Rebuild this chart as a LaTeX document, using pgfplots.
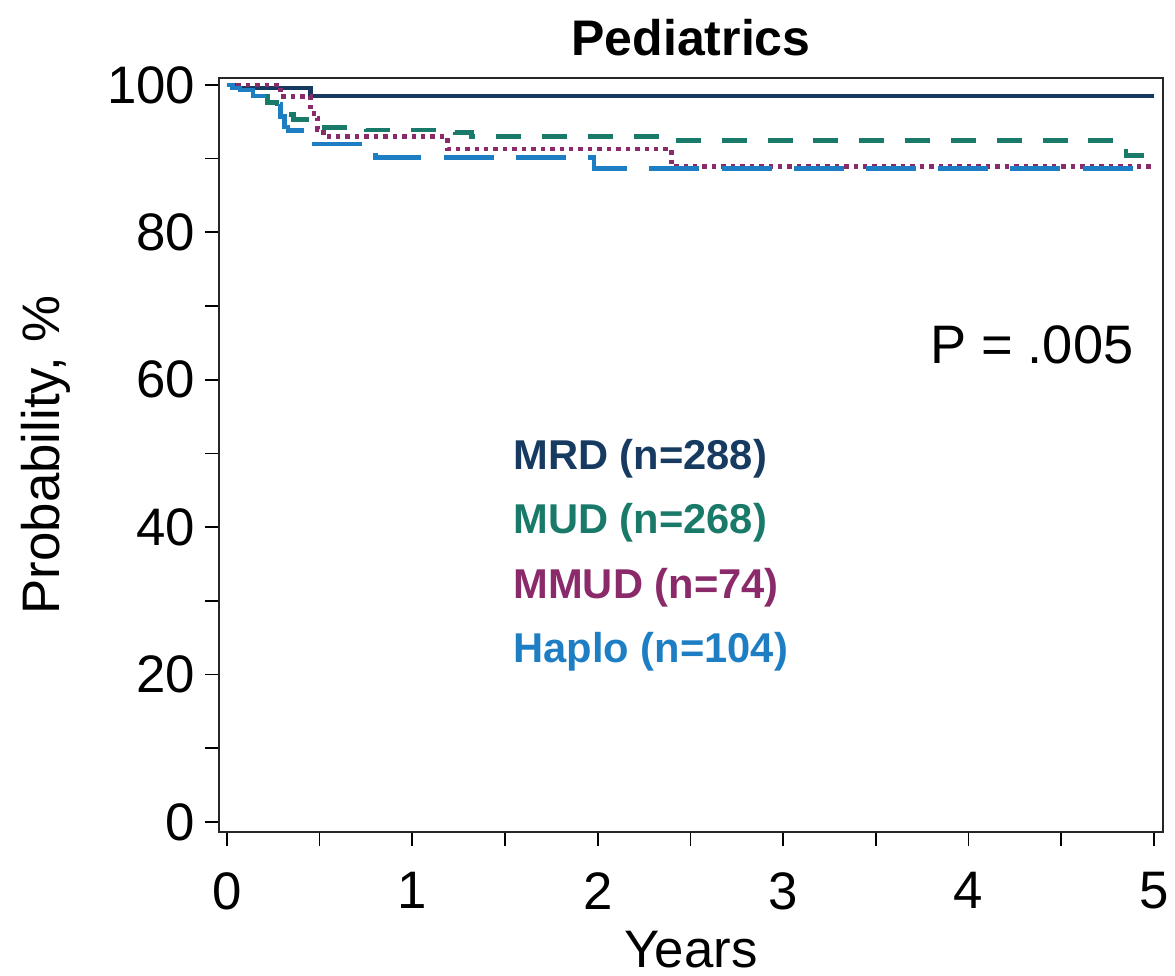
\documentclass[border=0pt]{standalone}
\usepackage{pgfplots}
\pgfplotsset{compat=1.18}
\usepackage{fontspec}
\setmainfont{Liberation Sans}

\definecolor{mrdc}{HTML}{163A60}
\definecolor{mudc}{HTML}{1A7A6A}
\definecolor{mmudc}{HTML}{8A2A6A}
\definecolor{haploc}{HTML}{1E7EC4}

\begin{document}
\begin{tikzpicture}
\begin{axis}[
    scale only axis,
    width=339.8pt, height=271.4pt,
    xmin=-0.043, xmax=5.05,
    ymin=-1.36, ymax=100.95,
    xtick={0,1,2,3,4,5},
    minor xtick={0.5,1.5,2.5,3.5,4.5},
    ytick={0,20,40,60,80,100},
    minor ytick={10,30,50,70,90},
    xtick pos=left, ytick pos=left,
    tick align=outside,
    major tick length=5pt, minor tick length=5pt,
    every tick/.style={black, line width=0.6pt},
    axis line style={black!85, line width=0.7pt},
    /pgf/number format/assume math mode=true,
    ticklabel style={font=\fontsize{19}{22}\selectfont},
    xticklabel style={yshift=-6pt},
    xlabel={Years},
    ylabel={Probability, \%},
    label style={font=\fontsize{19}{22}\selectfont},
    xlabel style={yshift=-1pt},
    ylabel style={yshift=6.5pt},
    title={Pediatrics},
    title style={font=\fontsize{18}{22}\selectfont\bfseries, yshift=-1.5pt},
]

% MRD
\addplot[const plot, mrdc, line width=1.7pt] coordinates {
    (0,100) (0.05,99.6) (0.45,98.5) (5,98.5)
};

% MUD
\addplot[const plot, mudc, line width=1.7pt, dash pattern=on 9pt off 7.5pt] coordinates {
    (0,100) (0.03,99.6) (0.07,99.3) (0.14,98.5) (0.22,97.6) (0.27,96.7)
    (0.32,96.0) (0.36,95.3) (0.45,94.2) (0.75,93.9) (1.23,93.5) (1.32,93.0)
    (2.4,92.5) (4.85,90.4) (5,90.4)
};

% MMUD
\addplot[const plot, mmudc, line width=1.7pt, dash pattern=on 1.6pt off 1.8pt] coordinates {
    (0,100) (0.29,98.4) (0.45,97.0) (0.47,95.5) (0.49,94.0) (0.52,93.0)
    (1.19,91.3) (2.4,88.9) (5,88.9)
};

% Haplo
\addplot[const plot, haploc, line width=1.7pt, dash pattern=on 18pt off 8pt] coordinates {
    (0,100) (0.03,99.6) (0.07,99.3) (0.14,98.5) (0.22,97.4) (0.29,95.7)
    (0.31,94.3) (0.33,93.8) (0.45,92.0) (0.80,90.2) (1.98,88.7) (5,88.7)
};

\node[anchor=west, inner sep=0pt, font=\fontsize{19.5}{22}\selectfont]
    at (axis cs:3.79,64.7) {P = .005};
\node[anchor=west, inner sep=0pt, font=\fontsize{15}{18}\selectfont\bfseries, text=mrdc]
    at (axis cs:1.543,49.3) {MRD (n=288)};
\node[anchor=west, inner sep=0pt, font=\fontsize{15}{18}\selectfont\bfseries, text=mudc]
    at (axis cs:1.543,40.6) {MUD (n=268)};
\node[anchor=west, inner sep=0pt, font=\fontsize{15}{18}\selectfont\bfseries, text=mmudc]
    at (axis cs:1.543,31.8) {MMUD (n=74)};
\node[anchor=west, inner sep=0pt, font=\fontsize{15}{18}\selectfont\bfseries, text=haploc]
    at (axis cs:1.543,23.1) {Haplo (n=104)};

\coordinate (bbl) at (rel axis cs:-0.232,-0.191);
\coordinate (btr) at (rel axis cs:1.0127,1.1034);
\end{axis}
\pgfresetboundingbox
\path (bbl) rectangle (btr);
\end{tikzpicture}
\end{document}
